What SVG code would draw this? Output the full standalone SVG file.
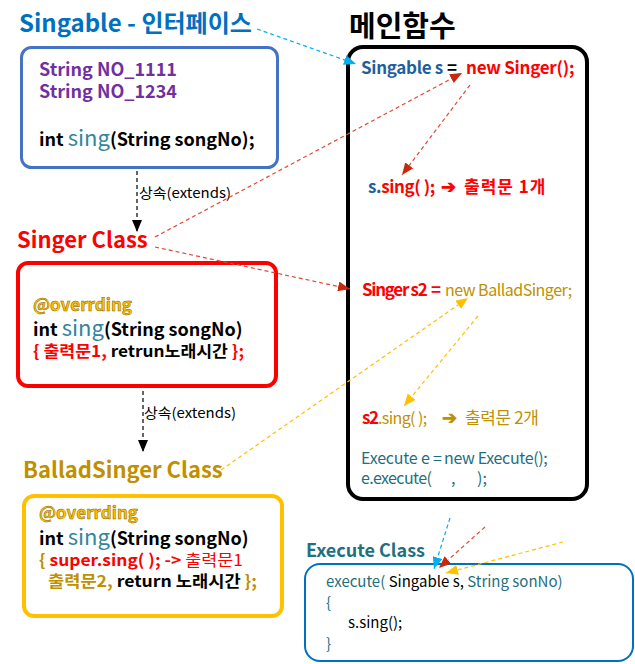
<svg xmlns="http://www.w3.org/2000/svg" width="635" height="664" viewBox="0 0 635 664">
<defs>
<style>
text{font-family:"Noto Sans CJK KR","Open Sans",sans-serif;}
.title{font-size:24px;font-weight:bold;}
.code{font-size:18px;font-weight:bold;}
.big{font-size:22px;font-weight:normal;}
.m{font-size:17px;}
.b{font-weight:bold;}
.lbl{font-size:14px;fill:#000;}
.box{fill:#fff;}
.con{fill:none;stroke-width:1.2;stroke-dasharray:4 3;}
.ovr{fill:#FFC000;stroke:#7F6000;stroke-width:0.5;font-size:17px;font-weight:bold;}
</style>
<marker id="mb" markerWidth="12" markerHeight="10" refX="12" refY="5" orient="auto" markerUnits="userSpaceOnUse"><path d="M0,0 L12,5 L0,10 z" fill="#00B0F0"/></marker>
<marker id="mr" markerWidth="12" markerHeight="10" refX="12" refY="5" orient="auto" markerUnits="userSpaceOnUse"><path d="M0,0 L12,5 L0,10 z" fill="#C8280C"/></marker>
<marker id="my" markerWidth="12" markerHeight="10" refX="12" refY="5" orient="auto" markerUnits="userSpaceOnUse"><path d="M0,0 L12,5 L0,10 z" fill="#FFC000"/></marker>
<marker id="mk" markerWidth="12" markerHeight="10" refX="12" refY="5" orient="auto" markerUnits="userSpaceOnUse"><path d="M0,0 L12,5 L0,10 z" fill="#000"/></marker>
</defs>
<rect width="635" height="664" fill="#fff"/>

<g id="singable">
<text x="19" y="32" class="title" fill="#0070C0">Singable - 인터페이스</text>
<rect x="21.5" y="47.5" width="256" height="120" rx="10" class="box" stroke="#4472C4" stroke-width="3"/>
<text x="39" y="76" class="code" fill="#7030A0">String NO_1111</text>
<text x="39" y="98" class="code" fill="#7030A0">String NO_1234</text>
<text x="39" y="146" class="code" fill="#000">int <tspan class="big" fill="#31859C">sing</tspan>(String songNo);</text>
</g>

<g id="singer">
<text x="17" y="248" class="title" style="font-size:22px" fill="#FF0000">Singer Class</text>
<rect x="18" y="263" width="258" height="123" rx="10" class="box" stroke="#FF0000" stroke-width="4"/>
<text x="33" y="311" class="ovr">@overrding</text>
<text x="33" y="336" class="code" fill="#000">int <tspan class="big" fill="#31859C">sing</tspan>(String songNo)</text>
<text x="33" y="357" class="code" style="font-size:16px" fill="#000" textLength="211" lengthAdjust="spacingAndGlyphs"><tspan fill="#FF0000">{ 출력문1,</tspan> retrun노래시간 <tspan fill="#FF0000">};</tspan></text>
</g>

<g id="ballad">
<text x="23" y="478" class="title" style="font-size:22px" fill="#BF9000">BalladSinger Class</text>
<rect x="24" y="496" width="258" height="120" rx="10" class="box" stroke="#FFC000" stroke-width="4"/>
<text x="39" y="519" class="ovr">@overrding</text>
<text x="39" y="545" class="code" fill="#000">int <tspan class="big" fill="#31859C">sing</tspan>(String songNo)</text>
<text x="39" y="566" class="code" style="font-size:16px" fill="#FF0000" textLength="204" lengthAdjust="spacingAndGlyphs"><tspan fill="#BF9000">{</tspan> super.sing( ); -&gt; <tspan font-weight="normal">출력문1</tspan></text>
<text x="48" y="587" class="code" style="font-size:16px" fill="#000" textLength="209" lengthAdjust="spacingAndGlyphs"><tspan fill="#BF9000">출력문2,</tspan> return 노래시간 <tspan fill="#BF9000">};</tspan></text>
</g>

<g id="main">
<text x="349" y="37" style="font-size:29px;font-weight:bold" fill="#000">메인함수</text>
<rect x="348" y="47" width="239" height="452" rx="15" class="box" stroke="#000" stroke-width="4"/>
<text x="361" y="74" class="m b"><tspan fill="#1F5FA0" letter-spacing="-0.3">Singable s</tspan><tspan x="447" fill="#000">=</tspan><tspan x="466" fill="#FF0000" letter-spacing="-0.25">new Singer();</tspan></text>
<text x="368" y="193" class="m b" fill="#FF0000"><tspan fill="#1F5FA0" letter-spacing="-0.4">s.</tspan><tspan letter-spacing="-0.4">sing( );</tspan><tspan x="441" style="font-size:18px">➔</tspan><tspan x="464" letter-spacing="1">출력문 1개</tspan></text>
<text x="362" y="296" class="m" fill="#FF0000"><tspan class="b" letter-spacing="-1.3">Singer s2</tspan><tspan x="431" class="b">=</tspan><tspan x="445" fill="#BF9000" style="font-size:16px" letter-spacing="-0.5">new BalladSinger;</tspan></text>
<text x="362" y="424" class="m" fill="#BF9000"><tspan class="b" fill="#FF0000" letter-spacing="-1.3">s2</tspan><tspan x="378" style="font-size:16px" letter-spacing="-0.6">.sing( );</tspan><tspan x="442" class="b" style="font-size:18px">➔</tspan><tspan x="465" letter-spacing="-0.4">출력문 2개</tspan></text>
<text x="361" y="464" style="font-size:16px" fill="#1F6F7F"><tspan letter-spacing="-0.2">Execute e =</tspan><tspan x="444" letter-spacing="-0.35">new Execute();</tspan></text>
<text x="361" y="484" style="font-size:16px" fill="#1F6F7F"><tspan letter-spacing="-0.6">e.execute(</tspan><tspan x="451">,</tspan><tspan x="477">);</tspan></text>
</g>

<g id="execute">
<text x="306" y="557" style="font-size:18px;font-weight:bold" fill="#1F7080">Execute Class</text>
<rect x="305" y="564" width="328" height="97" rx="15" class="box" stroke="#0070C0" stroke-width="2"/>
<text x="326" y="587" style="font-size:15px" fill="#1F6F7F">execute( <tspan fill="#000">Singable s,</tspan> String sonNo)</text>
<text x="326" y="608" style="font-size:15px" fill="#1F6F7F">{</text>
<text x="348" y="628" style="font-size:15px" fill="#000">s.sing();</text>
<text x="326" y="649" style="font-size:15px" fill="#1F6F7F">}</text>
</g>

<g id="connectors">
<line x1="137" y1="171" x2="137" y2="232" class="con" stroke="#000" marker-end="url(#mk)"/>
<text x="139" y="198" class="lbl" textLength="92" lengthAdjust="spacingAndGlyphs">상속(extends)</text>
<line x1="143" y1="391" x2="143" y2="452" class="con" stroke="#000" marker-end="url(#mk)"/>
<text x="144" y="418" class="lbl" textLength="92" lengthAdjust="spacingAndGlyphs">상속(extends)</text>
<line x1="257" y1="29" x2="356" y2="64" class="con" stroke="#00B0F0" marker-end="url(#mb)"/>
<line x1="155" y1="237" x2="462" y2="73" class="con" stroke="#E04A36" marker-end="url(#mr)"/>
<line x1="155" y1="247" x2="350" y2="289" class="con" stroke="#E04A36" marker-end="url(#mr)"/>
<line x1="470" y1="85" x2="402" y2="175" class="con" stroke="#E04A36" marker-end="url(#mr)"/>
<line x1="221" y1="470" x2="468" y2="298" class="con" stroke="#FFC000" marker-end="url(#my)"/>
<line x1="478" y1="316" x2="404" y2="406" class="con" stroke="#FFC000" marker-end="url(#my)"/>
<line x1="450" y1="518" x2="434" y2="569" class="con" stroke="#00B0F0" marker-end="url(#mb)"/>
<line x1="485" y1="527" x2="439" y2="568" class="con" stroke="#E04A36" marker-end="url(#mr)"/>
<line x1="563" y1="542" x2="446" y2="573" class="con" stroke="#FFC000" marker-end="url(#my)"/>
</g>
</svg>
